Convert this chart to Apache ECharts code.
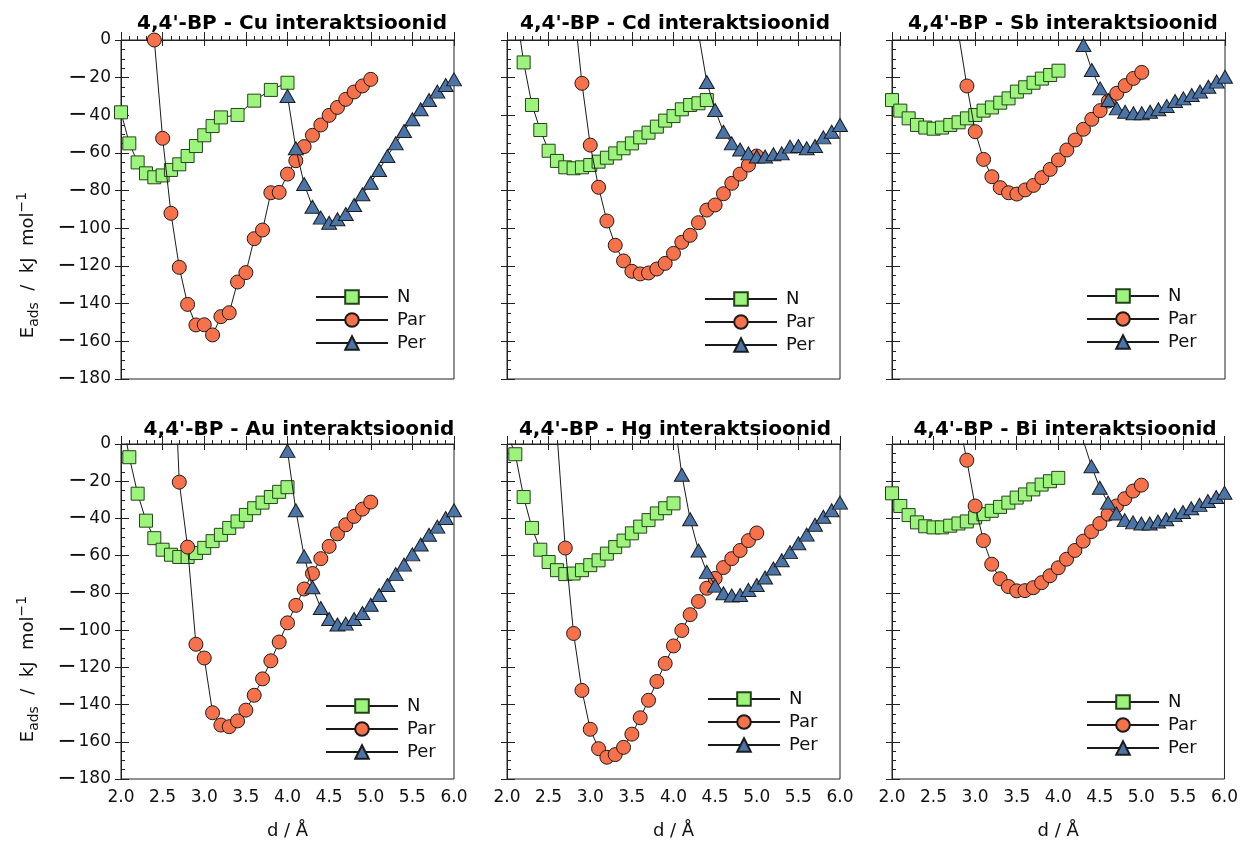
<!DOCTYPE html>
<html>
<head>
<meta charset="utf-8">
<script src="https://cdn.jsdelivr.net/npm/echarts@6/dist/echarts.min.js"></script>
<style>
  html, body { margin: 0; padding: 0; background: #fff; }
  #chart { width: 1241px; height: 841px; }
</style>
</head>
<body>
<div id="chart"></div>
<script>
// series names and axis texts
const seriesNames = ['N', 'Par', 'Per']
const metals = ['Cu', 'Cd', 'Sb', 'Au', 'Hg', 'Bi']
const titleText = m => "4,4'-BP - " + m + ' interaktsioonid'
const xName = 'd / Å'

// Cu
const cuN = [[2.0, -38.4], [2.1, -54.9], [2.2, -65], [2.3, -70.8], [2.4, -72.9], [2.5, -71.9], [2.6, -69], [2.7, -66], [2.8, -61.6], [2.9, -56.3], [3.0, -50.6], [3.1, -45.7], [3.2, -41.1], [3.4, -39.8], [3.6, -32.2], [3.8, -26.5], [4.0, -22.7]]
const cuPar = [[2.4, 0], [2.5, -52.2], [2.6, -92], [2.7, -120.7], [2.8, -140.4], [2.9, -151.3], [3.0, -151.2], [3.1, -156.6], [3.2, -146.9], [3.3, -144.8], [3.4, -128.5], [3.5, -123.5], [3.6, -105.5], [3.7, -100.9], [3.8, -81.1], [3.9, -80.9], [4.0, -71.2], [4.1, -64.1], [4.2, -56.6], [4.3, -50.6], [4.4, -45.1], [4.5, -40], [4.6, -35.8], [4.7, -31.5], [4.8, -27.6], [4.9, -24.4], [5.0, -20.9]]
const cuPer = [[4.0, -29.7], [4.1, -57.5], [4.2, -76.5], [4.3, -88.5], [4.4, -94.3], [4.5, -97], [4.6, -95.2], [4.7, -92.4], [4.8, -87.6], [4.9, -81.9], [5.0, -75.8], [5.1, -69], [5.2, -61.6], [5.3, -54.9], [5.4, -48.3], [5.5, -42.1], [5.6, -36.8], [5.7, -31.9], [5.8, -27.4], [5.9, -23.9], [6.0, -20.9]]

// Cd
const cdN = [[2.1, 19], [2.2, -11.9], [2.3, -34.5], [2.4, -47.8], [2.5, -58.8], [2.6, -64.2], [2.7, -67.6], [2.8, -68.1], [2.9, -67.6], [3.0, -66.4], [3.1, -64.6], [3.2, -62.5], [3.3, -60.2], [3.4, -57.5], [3.5, -54.9], [3.6, -51.7], [3.7, -49.2], [3.8, -46], [3.9, -42.8], [4.0, -40.4], [4.1, -36.8], [4.2, -34.5], [4.3, -33.6], [4.4, -31.9]]
const cdPar = [[2.8, 19.6], [2.9, -23], [3.0, -55.8], [3.1, -78.2], [3.2, -96.1], [3.3, -109], [3.4, -117.3], [3.5, -122.8], [3.6, -124.2], [3.7, -123.7], [3.8, -121.6], [3.9, -118.6], [4.0, -113.3], [4.1, -107.4], [4.2, -103.7], [4.3, -97], [4.4, -90.3], [4.5, -87.6], [4.6, -81.6], [4.7, -76.1], [4.8, -71.2], [4.9, -66.4], [5.0, -61.6]]
const cdPer = [[4.3, 3.5], [4.4, -22.3], [4.5, -37.2], [4.6, -48.7], [4.7, -54.9], [4.8, -58.1], [4.9, -60.2], [5.0, -61.9], [5.1, -61.9], [5.2, -60.7], [5.3, -60.2], [5.4, -56.6], [5.5, -56.3], [5.6, -57.5], [5.7, -56.3], [5.8, -51.7], [5.9, -48.7], [6.0, -45.1]]

// Sb
const sbN = [[2.0, -31.9], [2.1, -37.5], [2.2, -41.6], [2.3, -45.1], [2.4, -46.5], [2.5, -47.1], [2.6, -46.5], [2.7, -45.1], [2.8, -43.7], [2.9, -41.6], [3.0, -39.8], [3.1, -37.5], [3.2, -35.8], [3.3, -33.3], [3.4, -31], [3.5, -27.4], [3.6, -25.1], [3.7, -22.7], [3.8, -20.5], [3.9, -18.6], [4.0, -16.3]]
const sbPar = [[2.8, 3], [2.9, -24.4], [3.0, -48.7], [3.1, -63.4], [3.2, -72.6], [3.3, -78.4], [3.4, -81.1], [3.5, -81.8], [3.6, -79.6], [3.7, -77.2], [3.8, -73.1], [3.9, -68.7], [4.0, -63.7], [4.1, -58.4], [4.2, -53.1], [4.3, -47.4], [4.4, -42.1], [4.5, -37.5], [4.6, -32.4], [4.7, -28.3], [4.8, -24.2], [4.9, -20.4], [5.0, -17.2]]
const sbPer = [[4.3, -2.7], [4.4, -15.9], [4.5, -25.7], [4.6, -31.9], [4.7, -36.3], [4.8, -38.1], [4.9, -38.9], [5.0, -38.9], [5.1, -38.1], [5.2, -36.8], [5.3, -35], [5.4, -32.4], [5.5, -31], [5.6, -29.2], [5.7, -27.4], [5.8, -24.8], [5.9, -22.1], [6.0, -19.5]]

// Au
const auN = [[2.0, 17.7], [2.1, -7.1], [2.2, -26.7], [2.3, -41.2], [2.4, -50.6], [2.5, -56.8], [2.6, -59.5], [2.7, -60.7], [2.8, -60.7], [2.9, -58.6], [3.0, -55.8], [3.1, -52.2], [3.2, -48.8], [3.3, -45.1], [3.4, -41.6], [3.5, -38.1], [3.6, -34.5], [3.7, -31.5], [3.8, -28.5], [3.9, -25.7], [4.0, -23.2]]
const auPar = [[2.6, 84], [2.7, -20.5], [2.8, -55.4], [2.9, -107.6], [3.0, -115], [3.1, -144.4], [3.2, -151], [3.3, -151.9], [3.4, -148.8], [3.5, -143], [3.6, -135], [3.7, -126.2], [3.8, -116.5], [3.9, -106.4], [4.0, -96.1], [4.1, -86.7], [4.2, -77.9], [4.3, -69.6], [4.4, -61.6], [4.5, -55], [4.6, -48.3], [4.7, -43.4], [4.8, -38.9], [4.9, -35], [5.0, -31.2]]
const auPer = [[4.0, -3.7], [4.1, -35.6], [4.2, -60.4], [4.3, -77], [4.4, -88.1], [4.5, -94], [4.6, -97], [4.7, -96.5], [4.8, -94], [4.9, -90.8], [5.0, -86.4], [5.1, -81.1], [5.2, -75.8], [5.3, -69.9], [5.4, -64.8], [5.5, -59.3], [5.6, -54], [5.7, -48.8], [5.8, -44.4], [5.9, -39.8], [6.0, -35.6]]

// Hg
const hgN = [[2.0, 6], [2.1, -5.5], [2.2, -28.5], [2.3, -45.1], [2.4, -56.8], [2.5, -63.4], [2.6, -67.8], [2.7, -69.9], [2.8, -69.6], [2.9, -67.8], [3.0, -65.1], [3.1, -62.5], [3.2, -58.9], [3.3, -55.4], [3.4, -51.9], [3.5, -48], [3.6, -44.4], [3.7, -40.9], [3.8, -37.3], [3.9, -34.5], [4.0, -31.9]]
const hgPar = [[2.6, 6], [2.7, -55.9], [2.8, -101.8], [2.9, -132.4], [3.0, -153.3], [3.1, -163.7], [3.2, -168.3], [3.3, -166.9], [3.4, -163], [3.5, -155.9], [3.6, -147.1], [3.7, -137.7], [3.8, -127.6], [3.9, -117.9], [4.0, -108.5], [4.1, -100.2], [4.2, -91.7], [4.3, -84.6], [4.4, -77.5], [4.5, -72.2], [4.6, -66.4], [4.7, -61.6], [4.8, -57.2], [4.9, -51.9], [5.0, -47.8]]
const hgPer = [[4.0, 17], [4.1, -16.5], [4.2, -40.4], [4.3, -57.2], [4.4, -68.7], [4.5, -76.1], [4.6, -80.2], [4.7, -81.4], [4.8, -81.1], [4.9, -78.4], [5.0, -75.8], [5.1, -71.7], [5.2, -66.9], [5.3, -62.5], [5.4, -58.1], [5.5, -53.3], [5.6, -48.7], [5.7, -43.4], [5.8, -39.1], [5.9, -35.6], [6.0, -31.5]]

// Bi
const biN = [[2.0, -26.5], [2.1, -33.3], [2.2, -38.2], [2.3, -42.1], [2.4, -44.2], [2.5, -44.8], [2.6, -44.8], [2.7, -43.9], [2.8, -42.7], [2.9, -41.6], [3.0, -39.5], [3.1, -37.7], [3.2, -35.9], [3.3, -33.8], [3.4, -31.5], [3.5, -28.8], [3.6, -27.1], [3.7, -24.4], [3.8, -21.8], [3.9, -20], [4.0, -18.2]]
const biPar = [[2.8, 14], [2.9, -8.7], [3.0, -33.3], [3.1, -51.9], [3.2, -64.6], [3.3, -72.4], [3.4, -76.6], [3.5, -78.9], [3.6, -78.8], [3.7, -77.2], [3.8, -74.5], [3.9, -70.8], [4.0, -66.5], [4.1, -61.9], [4.2, -57.2], [4.3, -52.2], [4.4, -47.1], [4.5, -42.7], [4.6, -37.7], [4.7, -33.3], [4.8, -29.4], [4.9, -25.3], [5.0, -22.1]]
const biPer = [[4.3, 2], [4.4, -12], [4.5, -23.5], [4.6, -31.5], [4.7, -37.3], [4.8, -40.9], [4.9, -42.1], [5.0, -42.7], [5.1, -42.7], [5.2, -41.6], [5.3, -40.4], [5.4, -38.2], [5.5, -36.5], [5.6, -34.5], [5.7, -32.7], [5.8, -30.6], [5.9, -28.5], [6.0, -26.2]]

const panelData = [
    [cuN, cuPar, cuPer],
    [cdN, cdPar, cdPer],
    [sbN, sbPar, sbPer],
    [auN, auPar, auPer],
    [hgN, hgPar, hgPer],
    [biN, biPar, biPer]
]

// layout
const colLeft = [121, 507, 892]
const rowTop = [40, 444]
const gridW = 333
const gridH = 339
const titleX = [292, 675, 1063, 299, 675, 1065]
const legendPos = [[315, 288], [704, 290], [1086, 287], [325, 697], [707, 690], [1086, 693]]

const FONT = 'DejaVu Sans'
const markerStyles = [
    { symbol: 'rect', symbolSize: 13, color: '#9cf47d', border: '#24421a' },
    { symbol: 'circle', symbolSize: 14, color: '#f7714b', border: '#1c1c1c' },
    { symbol: 'triangle', symbolSize: [15, 13], color: '#4b74a8', border: '#1c1c1c' }
]

// negative tick labels get a wide minus sign
const fmtY = v => (v < 0 ? '{m|\u2212}' + Math.abs(v) : String(v))

const chart = echarts.init(document.getElementById('chart'), null, { renderer: 'canvas' })

const grid = [], xAxis = [], yAxis = [], series = [], title = [], legend = []

metals.forEach((m, i) => {
    const row = Math.floor(i / 3)
    const col = i % 3
    grid.push({
        left: colLeft[col], top: rowTop[row], width: gridW, height: gridH,
        show: true, borderColor: '#222', borderWidth: 1, backgroundColor: 'transparent'
    })

    const showX = row === 1
    const showY = col === 0

    // main axes: labels + outward major ticks
    xAxis.push({
        type: 'value', gridIndex: i, min: 2, max: 6, interval: 0.5,
        name: showX ? xName : '', nameLocation: 'middle', nameGap: 43,
        nameTextStyle: { fontFamily: FONT, fontSize: 18, color: '#111' },
        axisLine: { show: true, lineStyle: { color: '#222', width: 1 } },
        axisTick: { show: true, inside: false, length: 6, lineStyle: { color: '#222' } },
        axisLabel: { show: showX, margin: 10, fontFamily: FONT, fontSize: 17, color: '#111', formatter: v => v.toFixed(1) },
        splitLine: { show: false }
    })
    yAxis.push({
        type: 'value', gridIndex: i, min: -180, max: 0, interval: 20,
        axisLine: { show: true, lineStyle: { color: '#222', width: 1 } },
        axisTick: { show: true, inside: false, length: 6, lineStyle: { color: '#222' } },
        axisLabel: {
            show: showY, margin: 10, fontFamily: FONT, fontSize: 17, color: '#111', formatter: fmtY,
            rich: { m: { fontFamily: FONT, fontSize: 23, color: '#111', padding: [0, 2, 0, 0] } }
        },
        splitLine: { show: false }
    })
    // inner axes: inward major + minor ticks
    xAxis.push({
        type: 'value', gridIndex: i, min: 2, max: 6, interval: 0.5, position: 'bottom',
        axisLine: { show: false },
        axisTick: { show: true, inside: true, length: 8, lineStyle: { color: '#222' } },
        minorTick: { show: true, splitNumber: 5, length: 4, lineStyle: { color: '#222' } },
        axisLabel: { show: false },
        splitLine: { show: false }
    })
    yAxis.push({
        type: 'value', gridIndex: i, min: -180, max: 0, interval: 20, position: 'left',
        axisLine: { show: false },
        axisTick: { show: true, inside: true, length: 8, lineStyle: { color: '#222' } },
        minorTick: { show: true, splitNumber: 4, length: 4, lineStyle: { color: '#222' } },
        axisLabel: { show: false },
        splitLine: { show: false }
    })

    title.push({
        text: titleText(m),
        left: titleX[i], top: row === 0 ? 14 : 420, textAlign: 'center', padding: 0,
        textStyle: { fontFamily: FONT, fontSize: 20, fontWeight: 'bold', color: '#000' }
    })

    legend.push({
        data: seriesNames,
        orient: 'vertical',
        left: legendPos[i][0], top: legendPos[i][1],
        padding: 0, itemWidth: 72, itemHeight: 17, itemGap: 5,
        selectedMode: false,
        textStyle: { fontFamily: FONT, fontSize: 18, lineHeight: 17, color: '#111', padding: [0, 0, 0, 4] }
    })

    panelData[i].forEach((vals, k) => {
        const ms = markerStyles[k]
        series.push({
            name: seriesNames[k],
            type: 'line',
            xAxisIndex: 2 * i,
            yAxisIndex: 2 * i,
            data: vals,
            symbol: ms.symbol,
            symbolSize: ms.symbolSize,
            showAllSymbol: true,
            clip: true,
            lineStyle: { color: '#1a1a1a', width: 1 },
            itemStyle: { color: ms.color, borderColor: ms.border, borderWidth: 1 },
            emphasis: { disabled: true },
            z: 2 + k
        })
    })
})

const yNameText = '{m|E}{s|ads}{m|  /  kJ  mol}{p|\u22121}'
const yNameRich = {
    m: { fontFamily: FONT, fontSize: 18, lineHeight: 26, fill: '#111' },
    s: { fontFamily: FONT, fontSize: 14, verticalAlign: 'bottom', fill: '#111' },
    p: { fontFamily: FONT, fontSize: 14, verticalAlign: 'top', fill: '#111' }
}

chart.setOption({
    animation: false,
    backgroundColor: '#fff',
    textStyle: { fontFamily: FONT },
    title,
    legend,
    grid,
    xAxis,
    yAxis,
    series,
    graphic: [265, 669].map(cy => ({
        type: 'text',
        x: 28, y: cy,
        rotation: Math.PI / 2,
        style: { text: yNameText, rich: yNameRich, align: 'center', verticalAlign: 'middle' }
    }))
})
</script>
</body>
</html>
